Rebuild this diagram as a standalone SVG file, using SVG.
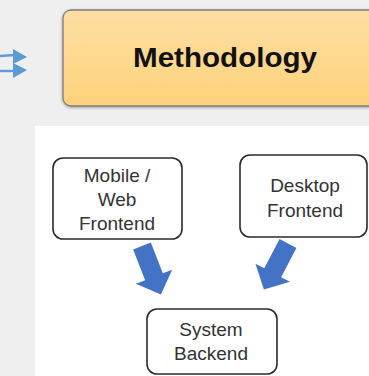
<svg xmlns="http://www.w3.org/2000/svg" width="369" height="376" viewBox="0 0 369 376">
  <defs>
    <linearGradient id="methodFill" x1="0" y1="0" x2="0" y2="1">
      <stop offset="0" stop-color="#fddea4"/>
      <stop offset="1" stop-color="#fdd27a"/>
    </linearGradient>
    <filter id="softShadow" x="-10%" y="-10%" width="130%" height="130%">
      <feGaussianBlur in="SourceAlpha" stdDeviation="1.5"/>
      <feOffset dx="0" dy="1" result="blur"/>
      <feComponentTransfer><feFuncA type="linear" slope="0.35"/></feComponentTransfer>
      <feMerge><feMergeNode/><feMergeNode in="SourceGraphic"/></feMerge>
    </filter>
    <!-- block arrow pointing down, origin at the middle of its tail -->
    <polygon id="blockArrow" points="-9.5,0 9.5,0 9.5,33 19.5,33 0,52 -19.5,33 -9.5,33"/>
  </defs>
  <style>
    .node rect { fill: #ffffff; stroke: #2b2b2b; stroke-width: 1.6; }
    .label { font-family: "Liberation Sans", Arial, sans-serif; font-size: 19px; fill: #333333; text-anchor: middle; }
    .title { font-family: "Liberation Sans", Arial, sans-serif; font-size: 27px; font-weight: bold; fill: #111111; text-anchor: middle; }
    .thin { stroke: #5b9bd5; stroke-width: 2.4; fill: none; }
    .thinHead { fill: #5b9bd5; }
    .block { fill: #4472c4; }
  </style>

  <!-- page background and content panel -->
  <rect x="0" y="0" width="369" height="376" fill="#efefef"/>
  <rect x="35" y="126" width="334" height="250" fill="#ffffff"/>

  <!-- heading box -->
  <g id="methodology">
    <rect x="63" y="10" width="320" height="96" rx="8" fill="url(#methodFill)" stroke="#7d7d7d" stroke-width="1.3" filter="url(#softShadow)"/>
    <text class="title" x="225" y="67" textLength="184" lengthAdjust="spacingAndGlyphs">Methodology</text>
  </g>

  <g id="mobile-web-frontend" class="node">
    <rect x="53" y="158" width="129" height="81" rx="10"/>
    <text class="label" x="117" y="182">Mobile /</text>
    <text class="label" x="117" y="206">Web</text>
    <text class="label" x="117" y="230">Frontend</text>
  </g>

  <g id="desktop-frontend" class="node">
    <rect x="240" y="155" width="127" height="82" rx="10"/>
    <text class="label" x="305" y="192">Desktop</text>
    <text class="label" x="305" y="217">Frontend</text>
  </g>

  <g id="system-backend" class="node">
    <rect x="147" y="309" width="130" height="65" rx="10"/>
    <text class="label" x="211" y="336">System</text>
    <text class="label" x="211" y="360">Backend</text>
  </g>

  <g id="connectors">
    <!-- incoming arrows at the left edge -->
    <line class="thin" x1="0" y1="56" x2="15" y2="55"/>
    <polygon class="thinHead" points="13,49 27,57 13,64"/>
    <line class="thin" x1="0" y1="71" x2="15" y2="71"/>
    <polygon class="thinHead" points="13,63 27,70 13,78"/>
    <!-- frontends to backend -->
    <use href="#blockArrow" class="block" transform="translate(142,246) rotate(-21.3)"/>
    <use href="#blockArrow" class="block" transform="translate(288,243.5) rotate(27.6)"/>
  </g>
</svg>
